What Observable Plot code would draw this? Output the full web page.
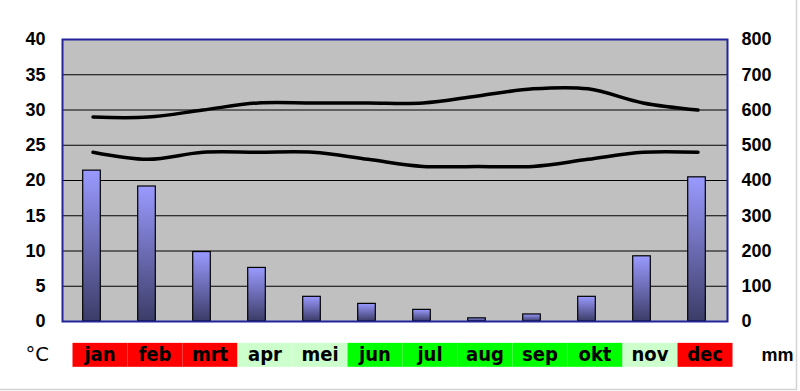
<!DOCTYPE html>
<html>
<head>
<meta charset="utf-8">
<script src="https://cdn.jsdelivr.net/npm/d3@7"></script>
<script src="https://cdn.jsdelivr.net/npm/@observablehq/plot@0.6"></script>
<style>
  html, body { margin: 0; padding: 0; background: #fff; }
  #chart svg { display: block; }
</style>
</head>
<body>
<div id="chart"></div>
<script>
const months = ["jan","feb","mrt","apr","mei","jun","jul","aug","sep","okt","nov","dec"];
const rainMm = [428, 383, 197, 152, 70, 50, 33, 9, 20, 70, 185, 409];
const tempMax = [29, 29, 30, 31, 31, 31, 31, 32, 33, 33, 31, 30];
const tempMin = [24, 23, 24, 24, 24, 23, 22, 22, 22, 23, 24, 24];
const seasonColors = ["#ff0000","#ff0000","#ff0000","#ccffcc","#ccffcc","#00ff00","#00ff00","#00ff00","#00ff00","#00ff00","#ccffcc","#ff0000"];
const tempTicks = [0, 5, 10, 15, 20, 25, 30, 35, 40];
const gridTicks = [5, 10, 15, 20, 25, 30, 35];
const mmPerDegree = 20;

const rows = months.map((m, i) => ({month: m, rain: rainMm[i], max: tempMax[i], min: tempMin[i], season: seasonColors[i]}));

const defs = () => {
  const d = d3.create("svg:defs");
  const g = d.append("linearGradient").attr("id", "barGrad").attr("x1", 0).attr("y1", 0).attr("x2", 0).attr("y2", 1);
  g.append("stop").attr("offset", "0%").attr("stop-color", "#9a9aff");
  g.append("stop").attr("offset", "100%").attr("stop-color", "#3c3c68");
  return d.node();
};

const pageBorder = (index, scales, values, dims) => {
  const p = d3.create("svg:path")
    .attr("d", `M0,${dims.height - 1.5}H${dims.width - 3.5}V0`)
    .attr("fill", "none").attr("stroke", "#d4d4d4").attr("stroke-width", 1.5);
  return p.node();
};

const axisFont = "'Liberation Sans', Arial, sans-serif";
const labelFont = "'Liberation Sans Narrow', 'Arial Narrow', 'DejaVu Sans Condensed', sans-serif";

const chart = Plot.plot({
  width: 800,
  height: 391,
  marginLeft: 62,
  marginRight: 73,
  marginTop: 39,
  marginBottom: 70,
  style: {background: "#fff", overflow: "visible"},
  x: {type: "band", domain: months, padding: 0, align: 0.5, axis: null},
  y: {domain: [0, 40], axis: null},
  marks: [
    defs,
    pageBorder,
    Plot.frame({fill: "#c0c0c0", stroke: "none"}),
    Plot.ruleY(gridTicks, {stroke: "#000", strokeWidth: 1.2}),
    Plot.barY(rows, {x: "month", y: d => d.rain / mmPerDegree, fill: "url(#barGrad)", stroke: "#000", strokeWidth: 1.2, insetLeft: 18.7, insetRight: 18.7, dx: -1}),
    Plot.line(rows, {x: "month", y: "max", stroke: "#000", strokeWidth: 3.5, curve: "catmull-rom"}),
    Plot.line(rows, {x: "month", y: "min", stroke: "#000", strokeWidth: 3.5, curve: "catmull-rom"}),
    Plot.frame({stroke: "#23239a", strokeWidth: 2}),
    Plot.axisY(tempTicks, {anchor: "left", tickSize: 0, tickPadding: 17, fontSize: 18, fontWeight: "bold", fontFamily: axisFont, fill: "#000"}),
    Plot.axisY(tempTicks, {anchor: "right", tickSize: 0, tickPadding: 14, fontSize: 18, fontWeight: "bold", fontFamily: axisFont, fill: "#000", tickFormat: d => d * mmPerDegree}),
    Plot.barY(rows, {x: "month", y1: -3.1, y2: -6.5, fill: "season", dx: 7.5}),
    Plot.text(rows, {x: "month", y: () => -4.75, text: "month", dx: 7, fontSize: 20, fontWeight: "bold", fontFamily: labelFont, fill: "#000"}),
    Plot.text(["°C"], {y: () => -4.75, frameAnchor: "left", dx: -37, textAnchor: "start", fontSize: 19.5, fontFamily: "'DejaVu Sans', Verdana, sans-serif", fill: "#000"}),
    Plot.text(["mm"], {y: () => -4.75, frameAnchor: "right", dx: 34, textAnchor: "start", fontSize: 18, fontWeight: "bold", fontFamily: axisFont, fill: "#000"})
  ]
});
document.getElementById("chart").appendChild(chart);
</script>
</body>
</html>
